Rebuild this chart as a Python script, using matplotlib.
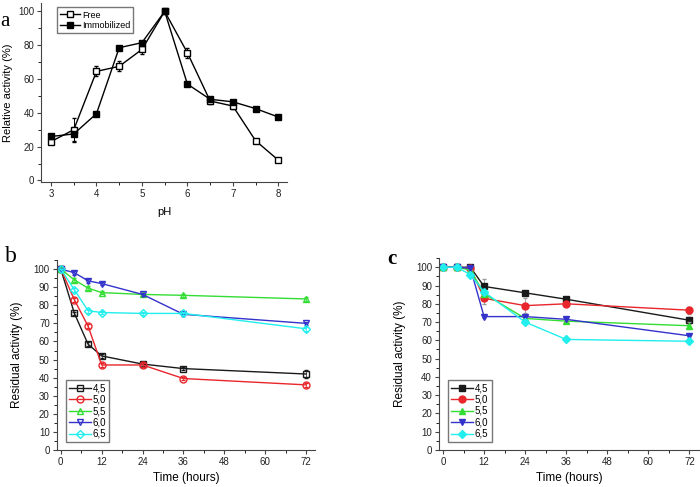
import numpy as np
import matplotlib
matplotlib.use('Agg')
import matplotlib.pyplot as plt
from matplotlib.ticker import MultipleLocator

plt.rcParams['font.family'] = ['Liberation Sans', 'DejaVu Sans']
SERIF = ['Liberation Serif', 'DejaVu Serif']

# panel a - pH profile
ph = [3, 3.5, 4, 4.5, 5, 5.5, 6, 6.5, 7, 7.5, 8]
free = [23, 30, 64.5, 67.5, 77.5, 100, 75.5, 47, 44, 23.5, 12]
free_err = [1.5, 7, 3, 3, 3, 0, 3, 2, 2, 1, 1]
immob = [26, 27.5, 39.5, 78.5, 81.5, 100, 57, 48, 46.5, 42.5, 37.5]
immob_err = [1, 4, 1, 1, 1, 0, 1, 1, 1, 1, 1]

# panels b, c - stability over time
hours = [0, 4, 8, 12, 24, 36, 72]
labels = ['4,5', '5,0', '5,5', '6,0', '6,5']
free_stab = [
    [100, 75.5, 58.5, 52, 47.5, 45, 42],
    [100, 83, 68.5, 47, 47, 39.5, 36],
    [100, 94, 89.5, 87, 86, 85.5, 83.5],
    [100, 98, 93.5, 92, 86, 75, 70],
    [100, 88.5, 77, 76, 75.5, 75.5, 67],
]
b_err = [
    [0, 1, 1, 1, 1, 1, 2],
    [0, 1, 1, 1, 1, 1, 1],
    [0, 1, 1, 1, 1, 1, 1],
    [0, 1, 1, 1, 1, 1, 1],
    [0, 1, 1, 1, 1, 1, 1],
]
immob_stab = [
    [100, 100, 100, 89.5, 86, 82.5, 71],
    [100, 100, 99.5, 83, 79, 80, 76.5],
    [100, 100, 98.5, 85.5, 72, 70.5, 68],
    [100, 100, 99.5, 73, 73, 71.5, 62.5],
    [100, 100, 96, 86.5, 70, 60.5, 59.5],
]
c_err = [
    [0, 1, 1, 4, 1, 1, 2],
    [0, 1, 1, 3, 4, 1, 2],
    [0, 1, 1, 1, 1, 1, 2],
    [0, 1, 1, 1, 1, 1, 1],
    [0, 1, 1, 1, 1, 1, 1],
]

colors = ['#1a1a1a', '#e8262b', '#33dd33', '#3333cc', '#22eeee']
markers = ['s', 'o', '^', 'v', 'D']

fig = plt.figure(figsize=(7, 4.87), dpi=100)


def style(ax, size):
    for s in ['top', 'right']:
        ax.spines[s].set_visible(False)
    ax.spines['left'].set_color('#444444')
    ax.spines['bottom'].set_color('#444444')
    ax.tick_params(direction='out', labelsize=size, length=3, width=0.8,
                   colors='#444444', labelcolor='#222222', pad=2)
    ax.tick_params(which='minor', length=2, width=0.6)


def legend(ax, loc, anchor, size):
    ax.legend(loc=loc, bbox_to_anchor=anchor, fontsize=size, frameon=True,
              fancybox=False, edgecolor='#555555', handlelength=2.2, borderpad=0.35,
              labelspacing=0.15, handletextpad=0.2, borderaxespad=0)


# ---- a ----
ax = fig.add_axes([0.0586, 0.626, 0.352, 0.368])
ax.errorbar(ph, free, yerr=free_err, fmt='none', ecolor='black', capsize=1.5, elinewidth=0.7)
ax.errorbar(ph, immob, yerr=immob_err, fmt='none', ecolor='black', capsize=1.5, elinewidth=0.7)
ax.plot(ph, free, color='black', marker='s', mfc='white', mec='black', ms=4, lw=1,
        label='Free')
ax.plot(ph, immob, color='black', marker='s', mfc='black', ms=4, lw=1,
        label='Immobilized')
ax.set_xlim(2.78, 8.2)
ax.set_ylim(-1, 105)
ax.xaxis.set_major_locator(MultipleLocator(1))
ax.xaxis.set_minor_locator(MultipleLocator(0.5))
ax.yaxis.set_major_locator(MultipleLocator(20))
ax.yaxis.set_minor_locator(MultipleLocator(10))
ax.set_xlabel('pH', fontsize=8, labelpad=6)
ax.set_ylabel('Relative activity (%)', fontsize=8)
ax.yaxis.set_label_coords(-0.115, 0.5)
style(ax, 7)
legend(ax, 'upper left', (0.065, 0.975), 6.5)
fig.text(0.0, 0.975, 'a', fontsize=15, family=SERIF, va='top')

# ---- b ----
ax = fig.add_axes([0.081, 0.076, 0.369, 0.39])
for i in range(5):
    ax.errorbar(hours, free_stab[i], yerr=b_err[i], fmt='none', ecolor=colors[i],
                capsize=1.5, elinewidth=0.5)
    ax.plot(hours, free_stab[i], color=colors[i], marker=markers[i], mfc='none',
            mec=colors[i], ms=5 if markers[i] != 'D' else 4.5, lw=1, label=labels[i])
ax.set_xlim(-1.2, 74.6)
ax.set_ylim(0, 105)
ax.xaxis.set_major_locator(MultipleLocator(12))
ax.xaxis.set_minor_locator(MultipleLocator(6))
ax.yaxis.set_major_locator(MultipleLocator(10))
ax.yaxis.set_minor_locator(MultipleLocator(5))
ax.set_xlabel('Time (hours)', fontsize=8.5)
ax.set_ylabel('Residual activity (%)', fontsize=8.5)
ax.yaxis.set_label_coords(-0.13, 0.5)
style(ax, 7)
legend(ax, 'lower left', (0.035, 0.04), 7)
fig.text(0.007, 0.495, 'b', fontsize=17, family=SERIF, va='top')

# ---- c ----
ax = fig.add_axes([0.627, 0.076, 0.372, 0.394])
for i in range(5):
    ax.errorbar(hours, immob_stab[i], yerr=c_err[i], fmt='none', ecolor='#999999',
                capsize=1.5, elinewidth=0.6)
    ax.plot(hours, immob_stab[i], color=colors[i], marker=markers[i], mfc=colors[i],
            mec=colors[i], ms=5 if markers[i] != 'D' else 4.5, lw=1, label=labels[i])
ax.set_xlim(-1.2, 74.9)
ax.set_ylim(0, 105)
ax.xaxis.set_major_locator(MultipleLocator(12))
ax.xaxis.set_minor_locator(MultipleLocator(6))
ax.yaxis.set_major_locator(MultipleLocator(10))
ax.yaxis.set_minor_locator(MultipleLocator(5))
ax.set_xlabel('Time (hours)', fontsize=8.5)
ax.set_ylabel('Residual activity (%)', fontsize=8.5)
ax.yaxis.set_label_coords(-0.125, 0.5)
style(ax, 7)
legend(ax, 'lower left', (0.035, 0.04), 7)
fig.text(0.553, 0.488, 'c', fontsize=15, family=SERIF, weight='bold', va='top')

fig.savefig('out.png', dpi=100)
